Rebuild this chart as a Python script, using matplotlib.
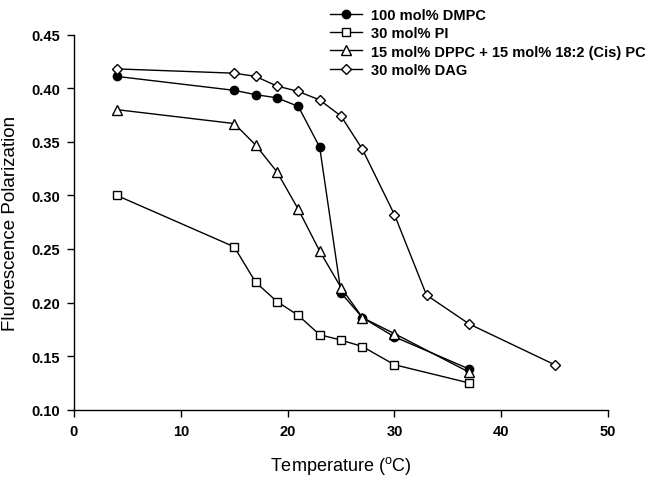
import matplotlib
matplotlib.use("Agg")
import matplotlib.pyplot as plt

plt.rcParams['font.family'] = ['Liberation Sans', 'DejaVu Sans']

# temperatures (deg C)
temp = [4, 15, 17, 19, 21, 23, 25, 27, 30, 37]
temp_dag = [4, 15, 17, 19, 21, 23, 25, 27, 30, 33, 37, 45]

dmpc = [0.411, 0.398, 0.394, 0.391, 0.383, 0.345, 0.209, 0.186, 0.168, 0.138]
pi = [0.300, 0.252, 0.219, 0.201, 0.188, 0.170, 0.165, 0.159, 0.142, 0.125]
dppc = [0.380, 0.367, 0.347, 0.322, 0.287, 0.248, 0.214, 0.186, 0.171, 0.135]
dag = [0.418, 0.414, 0.411, 0.402, 0.397, 0.389, 0.374, 0.343, 0.282, 0.207, 0.180, 0.142]

labels = ['100 mol% DMPC', '30 mol% PI',
          '15 mol% DPPC + 15 mol% 18:2 (Cis) PC', '30 mol% DAG']

fig = plt.figure(figsize=(6.49, 4.81), dpi=100)
ax = fig.add_axes([0.114, 0.146, 0.823, 0.780])

lw = 1.0
ax.plot(temp, dmpc, color='black', lw=lw, marker='o', ms=6, mfc='black', mec='black', label=labels[0])
ax.plot(temp, pi, color='black', lw=lw, marker='s', ms=6, mfc='white', mec='black', mew=1.0, label=labels[1])
ax.plot(temp, dppc, color='black', lw=lw, marker='^', ms=7, mfc='white', mec='black', mew=1.0, label=labels[2])
ax.plot(temp_dag, dag, color='black', lw=lw, marker='D', ms=5.2, mfc='white', mec='black', mew=1.0, label=labels[3])

ax.set_xlim(0, 50)
ax.set_ylim(0.10, 0.45)
ax.set_xticks([0, 10, 20, 30, 40, 50])
ax.set_yticks([0.10, 0.15, 0.20, 0.25, 0.30, 0.35, 0.40, 0.45])
ax.set_yticklabels(['%.2f' % v for v in ax.get_yticks()])
ax.spines['top'].set_visible(False)
ax.spines['right'].set_visible(False)
ax.spines['left'].set_linewidth(1.0)
ax.spines['bottom'].set_linewidth(1.0)
ax.tick_params(direction='out', length=5, width=1.0, labelsize=10.5, pad=5)
for t in ax.get_xticklabels() + ax.get_yticklabels():
    t.set_fontweight('bold')

ax.set_xlabel('Temperature ($\\mathregular{^{o}}$C)', fontsize=13, labelpad=12)
ax.set_ylabel('Fluorescence Polarization', fontsize=13.5, labelpad=9)

fig.legend(loc='upper left', bbox_to_anchor=(0.495, 1.0), frameon=False,
           prop={'weight': 'bold', 'size': 10.5}, handlelength=2.2,
           labelspacing=0.3, handletextpad=0.6, borderaxespad=0.2)

fig.savefig('out.png', dpi=100)
